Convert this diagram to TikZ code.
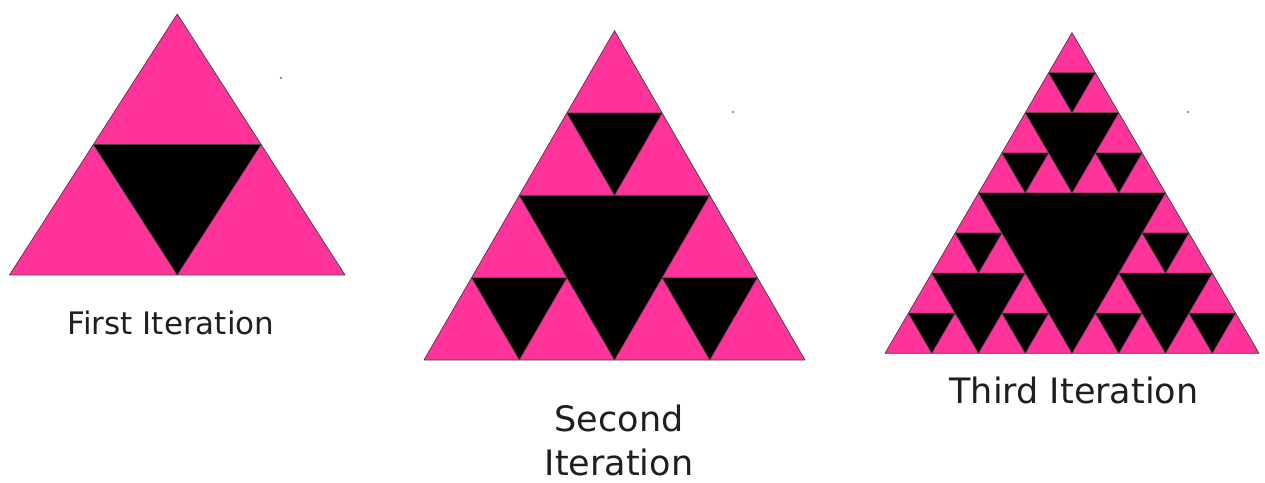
\documentclass[tikz,border=0pt]{standalone}
\usepackage{fontspec}
\setmainfont{DejaVu Sans}
\definecolor{sierpink}{RGB}{255,51,153}

% level, left x, base y, width, height
\newcommand\sierpinski[5]{%
  \begingroup
  \ifnum#1=0
    \filldraw[pinkcell] (#2,#3) -- ++(#4,0) -- ++(-#4/2,#5) -- cycle;
  \else
    \pgfmathtruncatemacro\sublevel{#1-1}%
    \pgfmathsetmacro\subw{#4/2}%
    \pgfmathsetmacro\subh{#5/2}%
    \pgfmathsetmacro\midx{#2+#4/2}%
    \pgfmathsetmacro\topx{#2+#4/4}%
    \pgfmathsetmacro\topy{#3+#5/2}%
    \fill[holecell] (\topx,\topy) -- ++(\subw,0) -- (\midx,#3) -- cycle;
    \edef\subcalls{%
      \noexpand\sierpinski{\sublevel}{#2}{#3}{\subw}{\subh}%
      \noexpand\sierpinski{\sublevel}{\midx}{#3}{\subw}{\subh}%
      \noexpand\sierpinski{\sublevel}{\topx}{\topy}{\subw}{\subh}}%
    \subcalls
  \fi
  \endgroup}

\begin{document}
\begin{tikzpicture}[x=1pt, y=1pt,
  pinkcell/.style={fill=sierpink, draw=black!75, line width=0.7pt, line join=round},
  holecell/.style={fill=black},
  caption/.style={anchor=base, text=black!88, inner sep=0pt},
  speck/.style={fill=black!45}]
  \useasboundingbox (0,0) rectangle (1265,482);
  % first iteration
  \sierpinski{1}{9.5}{207}{335.5}{261}
  \node[caption, font=\fontsize{31}{37}\selectfont] (first) at (171,147) {First Iteration};
  % second iteration
  \sierpinski{2}{424}{122}{381}{329.3}
  \node[caption, font=\fontsize{35}{44}\selectfont] (second) at (619,51) {Second};
  \node[caption, font=\fontsize{35}{44}\selectfont] (secondit) at (619,7) {Iteration};
  % third iteration
  \sierpinski{3}{885}{128.7}{374}{320.6}
  \node[caption, font=\fontsize{35}{44}\selectfont] (third) at (1074,79) {Third Iteration};
  % stray specks
  \foreach \sx/\sy in {281/404, 733/370, 1188/370}
    \fill[speck] (\sx,\sy) circle (1.3);
\end{tikzpicture}
\end{document}
